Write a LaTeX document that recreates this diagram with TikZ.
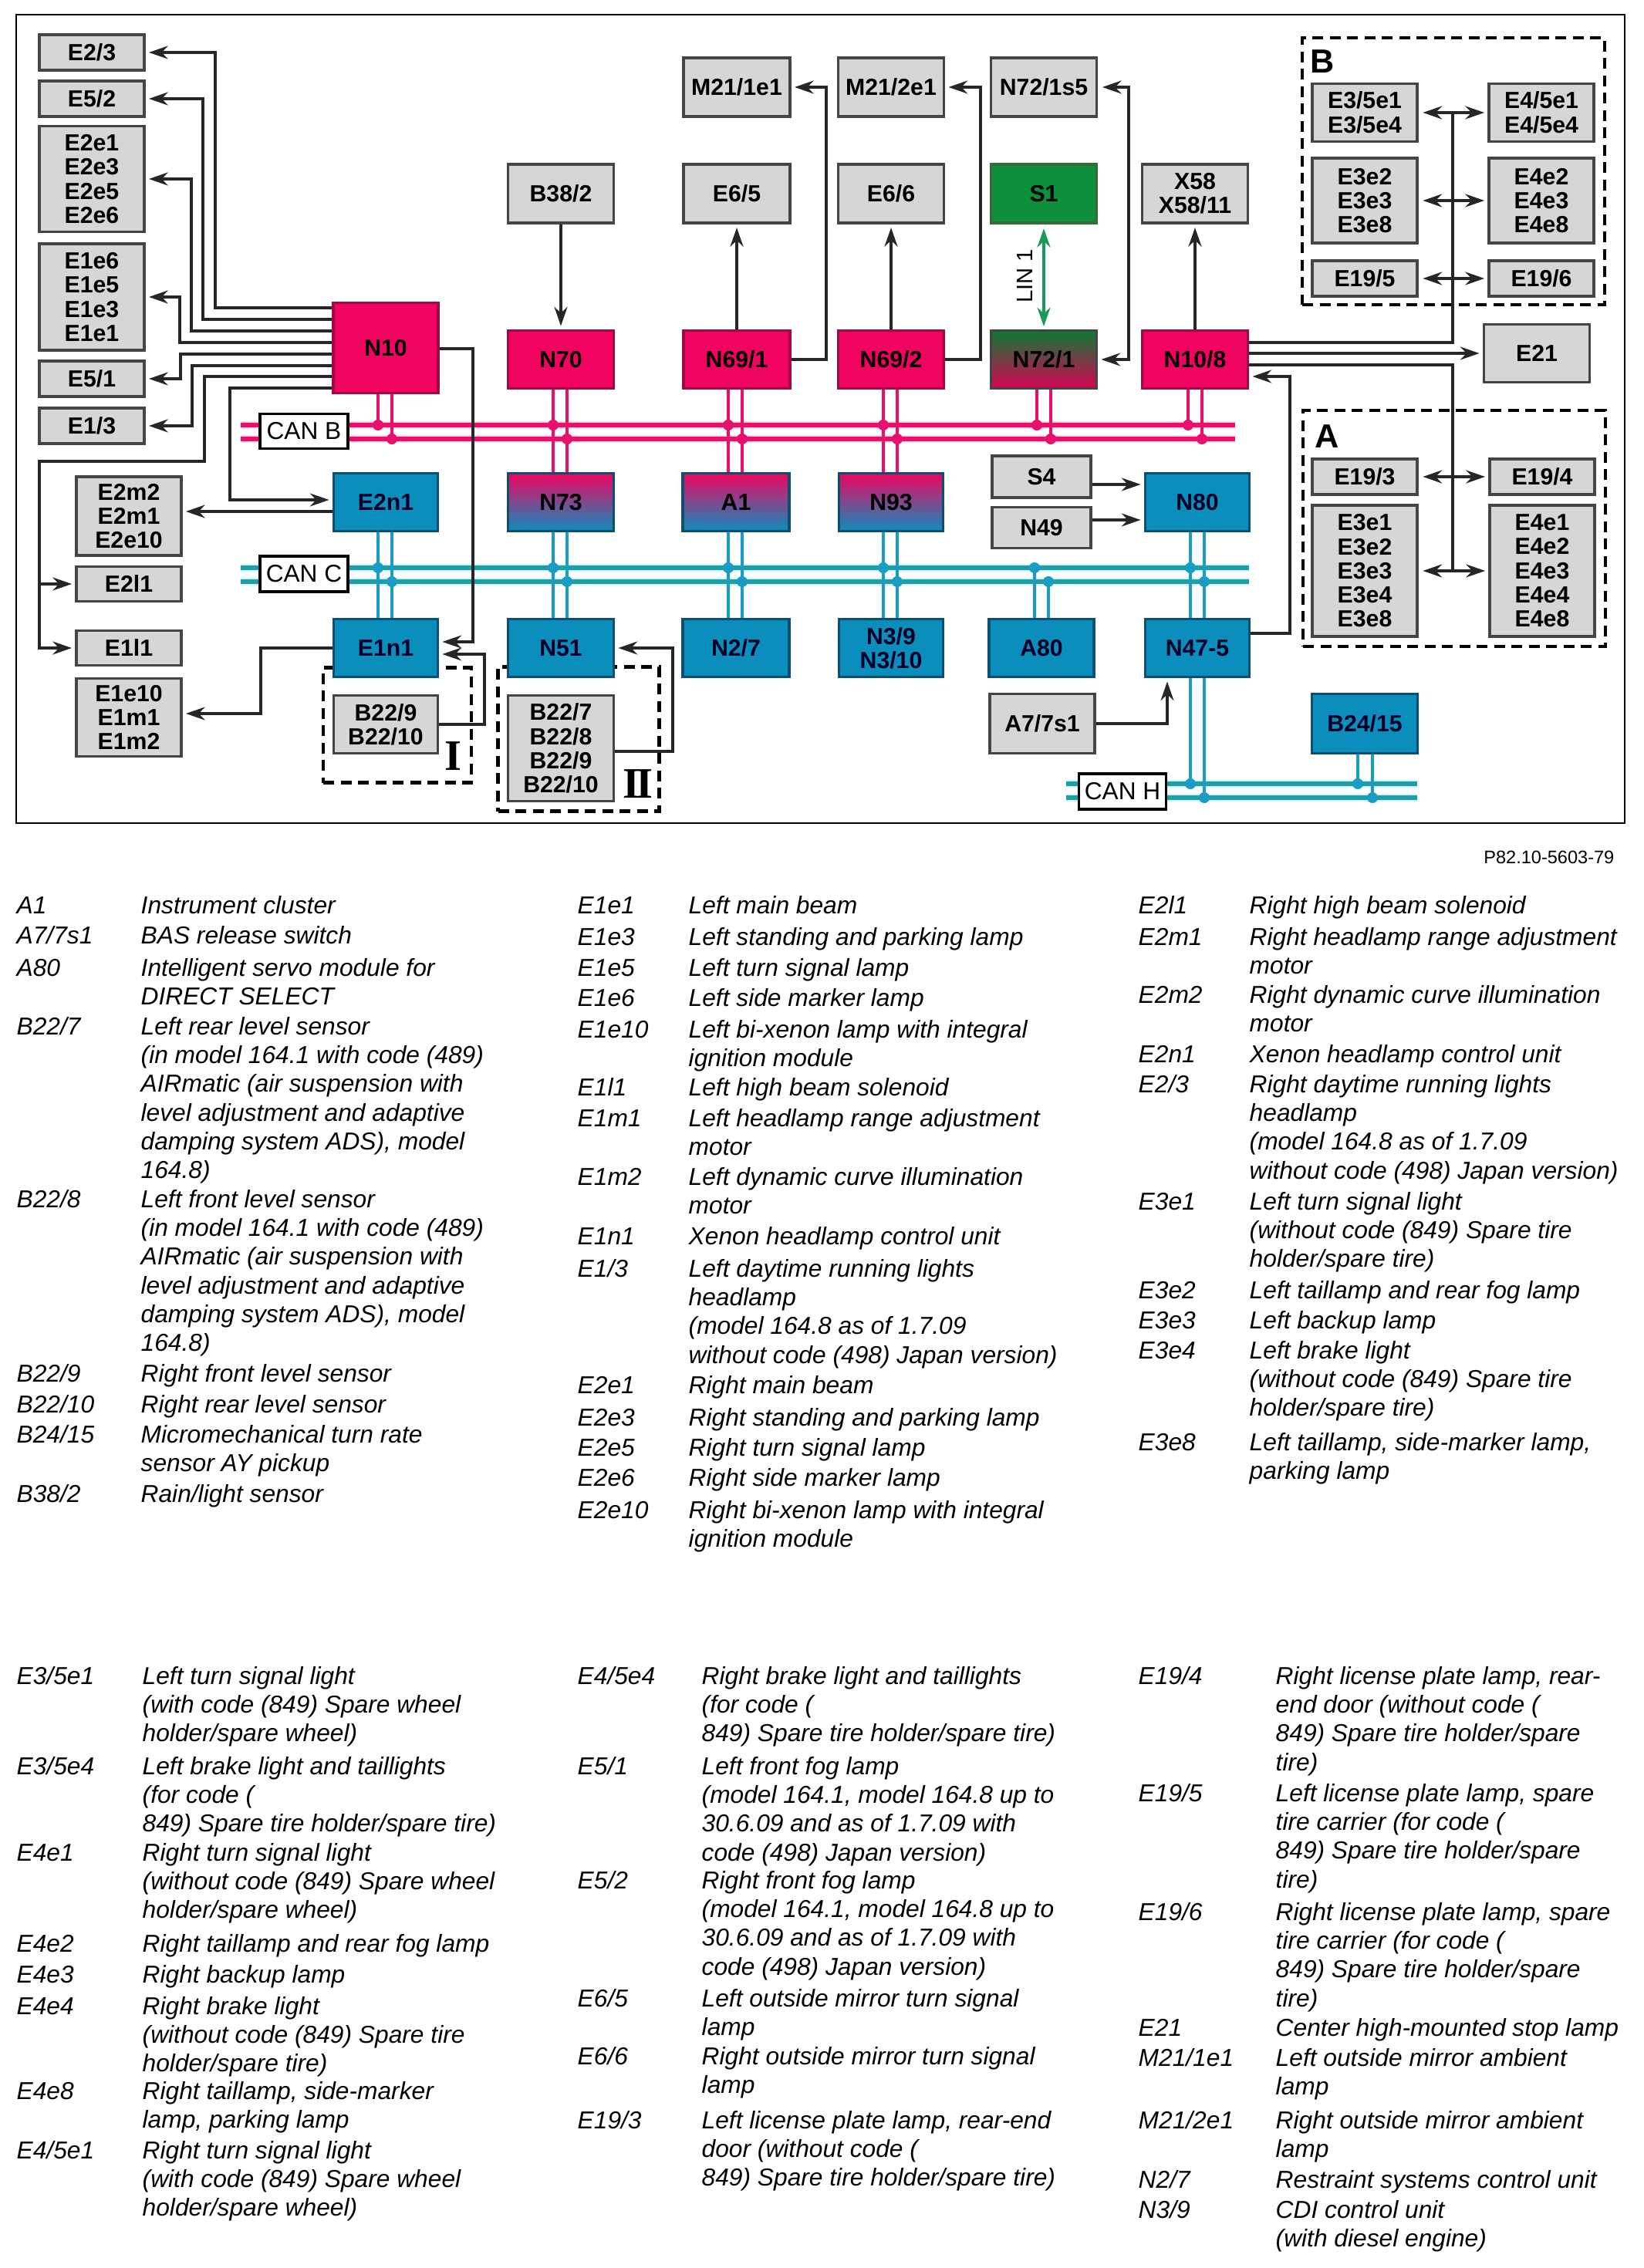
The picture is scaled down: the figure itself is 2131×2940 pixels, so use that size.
\documentclass[tikz,border=0pt]{standalone}
\usepackage{fontspec}
\setmainfont{Liberation Sans}
\newfontfamily\romanlabel{Liberation Serif}
\usetikzlibrary{arrows.meta}
\definecolor{graybg}{HTML}{D6D6D6}
\definecolor{grayln}{HTML}{454545}
\definecolor{pinkbg}{HTML}{F0045F}
\definecolor{pinkln}{HTML}{9E0A45}
\definecolor{bluebg}{HTML}{0B8EBC}
\definecolor{blueln}{HTML}{0D4F70}
\definecolor{greenbg}{HTML}{0D8F3C}
\definecolor{greenln}{HTML}{1B9A55}
\definecolor{canpink}{HTML}{E8106A}
\definecolor{canblue}{HTML}{1A9CC4}
\definecolor{canteal}{HTML}{1BA0A8}
\tikzset{
  wh/.style 2 args={minimum width=#1*0.01cm,minimum height=#2*0.01cm},
  boxbase/.style={draw,line width=1pt,inner sep=0pt,align=center,font=\fontsize{8.6}{8.9}\selectfont\bfseries},
  graybox/.style={boxbase,draw=grayln,fill=graybg},
  pinkbox/.style={boxbase,draw=pinkln,fill=pinkbg},
  bluebox/.style={boxbase,draw=blueln,fill=bluebg,text=black!85!blue},
  mixbox/.style={boxbase,draw=blueln,top color=pinkbg,bottom color=bluebg},
  canbox/.style={draw,line width=1pt,fill=white,inner sep=0pt,font=\fontsize{9}{9}\selectfont},
  dashbox/.style={draw,line width=1.2pt,dash pattern=on 4pt off 2.4pt},
  wire/.style={line width=1.1pt,black!85},
  arr/.style={wire,->,shorten >=1.2pt},
  biarr/.style={wire,<->,shorten >=1.2pt,shorten <=1.6pt},
  legtext/.style={anchor=north west,inner sep=0pt,align=left,yshift=4.1pt,font=\fontsize{9.02}{10.6}\selectfont\itshape}
}
\newcommand{\legrow}[4]{%
  \node[legtext] (k#1) at (\kx,#2) {\strut #3};
  \node[legtext] (t#1) at (\tx,#2) {\strut #4};}
\newcommand{\busp}[1]{\draw[line width=1.5pt,canpink,preaction={draw=canpink!18,line width=3pt}] #1;}
\newcommand{\busb}[1]{\draw[line width=1.5pt,canteal,preaction={draw=cyan!18,line width=3pt}] #1;}
\begin{document}
\begin{tikzpicture}[x=0.01cm,y=-0.01cm,>={Stealth[length=7pt,width=4.8pt]}]
\useasboundingbox (0,0) rectangle (2131,2940);
\node[draw,line width=0.7pt,wh={2085}{1048}] (frame) at (1063.5,543) {};
\node[dashbox,wh={392}{346}] (groupB) at (1884,222) {};
\node[dashbox,wh={392}{306}] (groupA) at (1885,685) {};
\node[dashbox,wh={192}{149}] (groupI) at (515,940) {};
\node[dashbox,wh={209}{187}] (groupII) at (750,958) {};
\coordinate (canbla) at (312,551);
\coordinate (canbra) at (1601,551);
\coordinate (canblb) at (312,569);
\coordinate (canbrb) at (1601,569);
\coordinate (cancla) at (312,736);
\coordinate (cancra) at (1619,736);
\coordinate (canclb) at (312,754);
\coordinate (cancrb) at (1619,754);
\coordinate (canhla) at (1382,1016);
\coordinate (canhra) at (1837,1016);
\coordinate (canhlb) at (1382,1034);
\coordinate (canhrb) at (1837,1034);
\busp{(canbla) -- (canbra)}
\busp{(canblb) -- (canbrb)}
\busb{(cancla) -- (cancra)}
\busb{(canclb) -- (cancrb)}
\busb{(canhla) -- (canhra)}
\busb{(canhlb) -- (canhrb)}
\node[graybox,wh={136}{46}] (e23) at (119,68) {E2/3};
\node[graybox,wh={136}{46}] (e52) at (119,128) {E5/2};
\node[graybox,wh={136}{137}] (e2e) at (119,232) {E2e1\\E2e3\\E2e5\\E2e6};
\node[graybox,wh={136}{138}] (e1e) at (119,385) {E1e6\\E1e5\\E1e3\\E1e1};
\node[graybox,wh={136}{46}] (e51) at (119,491) {E5/1};
\node[graybox,wh={136}{46}] (e13) at (119,552) {E1/3};
\node[graybox,wh={136}{102}] (e2m) at (167,669) {E2m2\\E2m1\\E2e10};
\node[graybox,wh={136}{45}] (e2l) at (167,757) {E2l1};
\node[graybox,wh={136}{45}] (e1l) at (167,840) {E1l1};
\node[graybox,wh={136}{101}] (e1m) at (167,930) {E1e10\\E1m1\\E1m2};
\node[pinkbox,wh={136}{117}] (n10) at (500,451) {N10};
\node[pinkbox,wh={137}{75}] (n70) at (727,466) {N70};
\node[graybox,wh={137}{76}] (b382) at (727,251) {B38/2};
\node[graybox,wh={138}{76}] (m211) at (955,113) {M21/1e1};
\node[graybox,wh={138}{76}] (e65) at (955,251) {E6/5};
\node[pinkbox,wh={138}{75}] (n691) at (955,466) {N69/1};
\node[graybox,wh={137}{76}] (m212) at (1155,113) {M21/2e1};
\node[graybox,wh={137}{76}] (e66) at (1155,251) {E6/6};
\node[pinkbox,wh={137}{75}] (n692) at (1155,466) {N69/2};
\node[graybox,wh={137}{76}] (n72s5) at (1353,113) {N72/1s5};
\node[boxbase,draw=grayln!80!green,fill=greenbg,wh={137}{76}] (s1) at (1353,251) {S1};
\node[boxbase,draw=grayln,top color=greenbg!85!black,bottom color=pinkbg!90!black,wh={137}{75}] (n721) at (1353,466) {N72/1};
\node[graybox,wh={137}{76}] (x58) at (1549,251) {X58\\X58/11};
\node[pinkbox,wh={137}{75}] (n108) at (1549,466) {N10/8};
\node[bluebox,wh={135}{75}] (e2n1) at (500,651) {E2n1};
\node[mixbox,wh={137}{75}] (n73) at (727,651) {N73};
\node[mixbox,wh={138}{75}] (a1) at (954,651) {A1};
\node[mixbox,wh={135}{75}] (n93) at (1155,651) {N93};
\node[graybox,wh={128}{54}] (s4) at (1350,618) {S4};
\node[graybox,wh={128}{53}] (n49) at (1350,684) {N49};
\node[bluebox,wh={135}{75}] (n80) at (1552,651) {N80};
\node[bluebox,wh={135}{75}] (e1n1) at (500,840) {E1n1};
\node[bluebox,wh={137}{75}] (n51) at (727,840) {N51};
\node[bluebox,wh={138}{75}] (n27) at (954,840) {N2/7};
\node[bluebox,wh={135}{75}] (n39) at (1155,840) {N3/9\\N3/10};
\node[bluebox,wh={136}{75}] (a80) at (1350,840) {A80};
\node[bluebox,wh={135}{75}] (n475) at (1552,840) {N47-5};
\node[graybox,wh={135}{75}] (b229) at (500,939) {B22/9\\B22/10};
\node[graybox,wh={137}{137}] (b227) at (727,970) {B22/7\\B22/8\\B22/9\\B22/10};
\node[graybox,wh={136}{77}] (a77) at (1351,938) {A7/7s1};
\node[bluebox,wh={137}{77}] (b2415) at (1769,938) {B24/15};
\node[graybox,wh={136}{75}] (e35) at (1769,146) {E3/5e1\\E3/5e4};
\node[graybox,wh={136}{75}] (e45) at (1998,146) {E4/5e1\\E4/5e4};
\node[graybox,wh={136}{110}] (e3e) at (1769,260) {E3e2\\E3e3\\E3e8};
\node[graybox,wh={136}{110}] (e4e) at (1998,260) {E4e2\\E4e3\\E4e8};
\node[graybox,wh={136}{46}] (e195) at (1769,361) {E19/5};
\node[graybox,wh={136}{46}] (e196) at (1998,361) {E19/6};
\node[graybox,wh={137}{75}] (e21) at (1992,458) {E21};
\node[graybox,wh={136}{46}] (e193) at (1769,618) {E19/3};
\node[graybox,wh={136}{46}] (e194) at (1999,618) {E19/4};
\node[graybox,wh={136}{170}] (e3f) at (1769,740) {E3e1\\E3e2\\E3e3\\E3e4\\E3e8};
\node[graybox,wh={136}{170}] (e4f) at (1999,740) {E4e1\\E4e2\\E4e3\\E4e4\\E4e8};
\foreach \a/\b/\xa/\xb in {n70/n73/717/735,n691/a1/944/962,n692/n93/1145/1163}{
  \draw[canpink,line width=1.1pt] (\a.south -| \xa,0) -- (\b.north -| \xa,0);
  \draw[canpink,line width=1.1pt] (\a.south -| \xb,0) -- (\b.north -| \xb,0);
  \fill[canpink] (\xa,551) circle (2pt) (\xb,569) circle (2pt);
}
\foreach \a/\xa/\xb in {n10/490/508,n721/1344/1362,n108/1540/1558}{
  \draw[canpink,line width=1.1pt] (\a.south -| \xa,0) -- (\xa,551);
  \draw[canpink,line width=1.1pt] (\a.south -| \xb,0) -- (\xb,569);
  \fill[canpink] (\xa,551) circle (2pt) (\xb,569) circle (2pt);
}
\foreach \a/\b/\xa/\xb in {e2n1/e1n1/490/508,n73/n51/717/735,a1/n27/944/962,n93/n39/1145/1163,n80/n475/1543/1561}{
  \draw[canblue,line width=1.1pt] (\a.south -| \xa,0) -- (\b.north -| \xa,0);
  \draw[canblue,line width=1.1pt] (\a.south -| \xb,0) -- (\b.north -| \xb,0);
  \fill[canblue] (\xa,736) circle (2pt) (\xb,754) circle (2pt);
}
\draw[canblue,line width=1.1pt] (a80.north -| 1341,0) -- (1341,736);
\draw[canblue,line width=1.1pt] (a80.north -| 1359,0) -- (1359,754);
\fill[canblue] (1341,736) circle (2pt) (1359,754) circle (2pt);
\draw[canblue,line width=1.1pt] (n475.south -| 1543,0) -- (1543,1016);
\draw[canblue,line width=1.1pt] (n475.south -| 1561,0) -- (1561,1034);
\fill[canblue] (1543,1016) circle (2pt) (1561,1034) circle (2pt);
\draw[canblue,line width=1.1pt] (b2415.south -| 1760,0) -- (1760,1016);
\draw[canblue,line width=1.1pt] (b2415.south -| 1779,0) -- (1779,1034);
\fill[canblue] (1760,1016) circle (2pt) (1779,1034) circle (2pt);
\node[canbox,wh={114}{45}] (canb) at (394,559) {CAN B};
\node[canbox,wh={114}{46}] (canc) at (394,744) {CAN C};
\node[canbox,wh={113}{46}] (canh) at (1455,1026) {CAN H};
\draw[arr] (n10.west |- 0,399) -- (279,399) |- (e23.east);
\draw[arr] (n10.west |- 0,414) -- (263,414) |- (e52.east);
\draw[arr] (n10.west |- 0,429) -- (248,429) |- (e2e.east);
\draw[arr] (n10.west |- 0,444) -- (233,444) |- (e1e.east);
\draw[arr] (n10.west |- 0,459) -- (234,459) |- (e51.east);
\draw[arr] (n10.west |- 0,474) -- (249,474) |- (e13.east);
\draw[arr] (n10.west |- 0,488) -- (265,488) |- (51,598) |- (e1l.west);
\draw[arr] (e2l.west -| 51,0) -- (e2l.west);
\draw[arr] (n10.west |- 0,503) -- (298,503) |- (e2n1.west |- 0,648);
\draw[arr] (e2n1.west |- 0,663) -- (e2m.east |- 0,663);
\draw[arr] (n10.east |- 0,452) -- (613,452) |- (e1n1.east |- 0,832);
\draw[arr] (e1n1.west) -- (338,840) |- (e1m.east |- 0,925);
\draw[arr] (b229.east) -- (628,939) |- (e1n1.east |- 0,848);
\draw[arr] (b227.east |- 0,974) -- (872,974) |- (n51.east);
\draw[arr] (b382.south) -- (n70.north);
\draw[arr] (n691.north) -- (e65.south);
\draw[arr] (n692.north) -- (e66.south);
\draw[arr] (n108.north) -- (x58.south);
\draw[arr] (n691.east) -- (1071,466) |- (m211.east);
\draw[arr] (n692.east) -- (1271,466) |- (m212.east);
\draw[biarr] (n72s5.east) -- (1463,113) |- (n721.east);
\draw[line width=1.1pt,greenln,<->,shorten >=1pt,shorten <=1.5pt] (s1.south) -- (n721.north);
\node[rotate=90,inner sep=0pt,font=\fontsize{8.3}{8.3}\selectfont] (lin) at (1328,358) {LIN 1};
\draw[wire] (n108.east |- 0,444) -- (1883,444) -- (e35.east -| 1883,0);
\draw[arr] (n108.east |- 0,458) -- (e21.west);
\draw[wire] (n108.east |- 0,473) -- (1883,473) -- (e3f.east -| 1883,0);
\draw[arr] (n475.east |- 0,821) -- (1672,821) |- (n108.east |- 0,488);
\draw[biarr] (e35.east) -- (e45.west);
\draw[biarr] (e3e.east) -- (e4e.west);
\draw[biarr] (e195.east) -- (e196.west);
\draw[biarr] (e193.east) -- (e194.west);
\draw[biarr] (e3f.east) -- (e4f.west);
\draw[arr] (s4.east |- 0,628) -- (n80.west |- 0,628);
\draw[arr] (n49.east |- 0,674) -- (n80.west |- 0,674);
\draw[arr] (a77.east) -| (n475.south -| 1513,0);
\node[inner sep=0pt,font=\fontsize{12.3}{12.3}\selectfont\bfseries] (labB) at (1714,80) {B};
\node[inner sep=0pt,font=\fontsize{12.3}{12.3}\selectfont\bfseries] (labA) at (1720,566) {A};
\node[inner sep=0pt,font=\fontsize{16}{16}\selectfont\romanlabel\bfseries] (labI) at (587,980) {I};
\node[inner sep=0pt,font=\fontsize{16}{16}\selectfont\romanlabel\bfseries] (labII) at (827,1016) {I\kern-1.4pt I};
\node[anchor=east,inner sep=0pt,font=\fontsize{6.7}{6.7}\selectfont] (partno) at (2093,1111) {P82.10-5603-79};
\def\kx{21}\def\tx{182}
\legrow{aa}{1172}{A1}{Instrument cluster}
\legrow{ab}{1211}{A7/7s1}{BAS release switch}
\legrow{ac}{1253}{A80}{Intelligent servo module for\\DIRECT SELECT}
\legrow{ad}{1329}{B22/7}{Left rear level sensor\\(in model 164.1 with code (489)\\AIRmatic (air suspension with\\level adjustment and adaptive\\damping system ADS), model\\164.8)}
\legrow{ae}{1553}{B22/8}{Left front level sensor\\(in model 164.1 with code (489)\\AIRmatic (air suspension with\\level adjustment and adaptive\\damping system ADS), model\\164.8)}
\legrow{af}{1779}{B22/9}{Right front level sensor}
\legrow{ag}{1819}{B22/10}{Right rear level sensor}
\legrow{ah}{1858}{B24/15}{Micromechanical turn rate\\sensor AY pickup}
\legrow{ai}{1935}{B38/2}{Rain/light sensor}
\def\kx{748}\def\tx{892}
\legrow{ba}{1172}{E1e1}{Left main beam}
\legrow{bb}{1213}{E1e3}{Left standing and parking lamp}
\legrow{bc}{1253}{E1e5}{Left turn signal lamp}
\legrow{bd}{1292}{E1e6}{Left side marker lamp}
\legrow{be}{1333}{E1e10}{Left bi-xenon lamp with integral\\ignition module}
\legrow{bf}{1408}{E1l1}{Left high beam solenoid}
\legrow{bg}{1448}{E1m1}{Left headlamp range adjustment\\motor}
\legrow{bh}{1524}{E1m2}{Left dynamic curve illumination\\motor}
\legrow{bi}{1601}{E1n1}{Xenon headlamp control unit}
\legrow{bj}{1643}{E1/3}{Left daytime running lights\\headlamp\\(model 164.8 as of 1.7.09\\without code (498) Japan version)}
\legrow{bk}{1794}{E2e1}{Right main beam}
\legrow{bl}{1836}{E2e3}{Right standing and parking lamp}
\legrow{bm}{1875}{E2e5}{Right turn signal lamp}
\legrow{bn}{1914}{E2e6}{Right side marker lamp}
\legrow{bo}{1956}{E2e10}{Right bi-xenon lamp with integral\\ignition module}
\def\kx{1475}\def\tx{1619}
\legrow{ca}{1172}{E2l1}{Right high beam solenoid}
\legrow{cb}{1213}{E2m1}{Right headlamp range adjustment\\motor}
\legrow{cc}{1288}{E2m2}{Right dynamic curve illumination\\motor}
\legrow{cd}{1365}{E2n1}{Xenon headlamp control unit}
\legrow{ce}{1404}{E2/3}{Right daytime running lights\\headlamp\\(model 164.8 as of 1.7.09\\without code (498) Japan version)}
\legrow{cf}{1556}{E3e1}{Left turn signal light\\(without code (849) Spare tire\\holder/spare tire)}
\legrow{cg}{1671}{E3e2}{Left taillamp and rear fog lamp}
\legrow{ch}{1710}{E3e3}{Left backup lamp}
\legrow{ci}{1749}{E3e4}{Left brake light\\(without code (849) Spare tire\\holder/spare tire)}
\legrow{cj}{1868}{E3e8}{Left taillamp, side-marker lamp,\\parking lamp}
\def\kx{21}\def\tx{184}
\legrow{da}{2171}{E3/5e1}{Left turn signal light\\(with code (849) Spare wheel\\holder/spare wheel)}
\legrow{db}{2288}{E3/5e4}{Left brake light and taillights\\(for code (\\849) Spare tire holder/spare tire)}
\legrow{dc}{2400}{E4e1}{Right turn signal light\\(without code (849) Spare wheel\\holder/spare wheel)}
\legrow{dd}{2518}{E4e2}{Right taillamp and rear fog lamp}
\legrow{de}{2558}{E4e3}{Right backup lamp}
\legrow{df}{2599}{E4e4}{Right brake light\\(without code (849) Spare tire\\holder/spare tire)}
\legrow{dg}{2709}{E4e8}{Right taillamp, side-marker\\lamp, parking lamp}
\legrow{dh}{2786}{E4/5e1}{Right turn signal light\\(with code (849) Spare wheel\\holder/spare wheel)}
\def\kx{748}\def\tx{909}
\legrow{ea}{2171}{E4/5e4}{Right brake light and taillights\\(for code (\\849) Spare tire holder/spare tire)}
\legrow{eb}{2288}{E5/1}{Left front fog lamp\\(model 164.1, model 164.8 up to\\30.6.09 and as of 1.7.09 with\\code (498) Japan version)}
\legrow{ec}{2436}{E5/2}{Right front fog lamp\\(model 164.1, model 164.8 up to\\30.6.09 and as of 1.7.09 with\\code (498) Japan version)}
\legrow{ed}{2589}{E6/5}{Left outside mirror turn signal\\lamp}
\legrow{ee}{2664}{E6/6}{Right outside mirror turn signal\\lamp}
\legrow{ef}{2747}{E19/3}{Left license plate lamp, rear-end\\door (without code (\\849) Spare tire holder/spare tire)}
\def\kx{1475}\def\tx{1653}
\legrow{fa}{2171}{E19/4}{Right license plate lamp, rear-\\end door (without code (\\849) Spare tire holder/spare\\tire)}
\legrow{fb}{2323}{E19/5}{Left license plate lamp, spare\\tire carrier (for code (\\849) Spare tire holder/spare\\tire)}
\legrow{fc}{2477}{E19/6}{Right license plate lamp, spare\\tire carrier (for code (\\849) Spare tire holder/spare\\tire)}
\legrow{fd}{2627}{E21}{Center high-mounted stop lamp}
\legrow{fe}{2666}{M21/1e1}{Left outside mirror ambient\\lamp}
\legrow{ff}{2747}{M21/2e1}{Right outside mirror ambient\\lamp}
\legrow{fg}{2824}{N2/7}{Restraint systems control unit}
\legrow{fh}{2863}{N3/9}{CDI control unit\\(with diesel engine)}
\end{tikzpicture}
\end{document}
